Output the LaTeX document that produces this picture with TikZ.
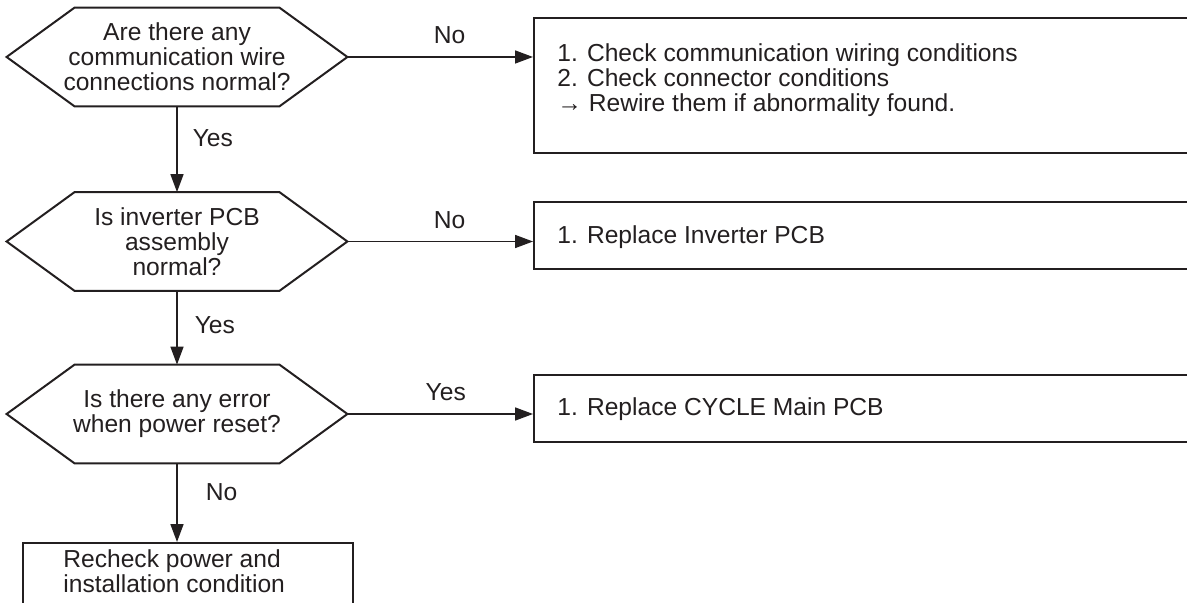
\documentclass[tikz,border=0pt]{standalone}
\usepackage{fontspec}
\setmainfont{Liberation Sans}
\usetikzlibrary{positioning, calc, arrows.meta}
\definecolor{ink}{HTML}{231F20}

\begin{document}
\begin{tikzpicture}[
    x=0.5pt, y=-0.5pt,
    decision/.style={
        minimum width=170pt,
        minimum height=49pt,
        inner sep=0pt,
        align=center
    },
    hexline/.style={draw=ink, line width=1pt},
    actionbox/.style={
        draw=ink,
        line width=1.2pt,
        anchor=north west,
        inner sep=0pt
    },
    boxtext/.style={anchor=north west, align=left, inner sep=0pt},
    arrow/.style={
        -{Triangle[length=9pt, width=6.5pt]},
        draw=ink,
        line width=0.8pt
    },
    answer/.style={inner sep=0pt},
    font=\fontsize{12.3pt}{12.5pt}\selectfont,
    text=ink
]

% page size and clipping
\useasboundingbox (0,0) rectangle (1187,603);
\clip (0,0) rectangle (1187,603);

% parameters
\def\hexin{68}

% macro: question hexagon
\newcommand{\drawhexa}[3]{
  \node[decision] (#1) at #2 {#3};
  \draw[hexline] ($(#1.north west)+(\hexin,0)$) -- ($(#1.north east)-(\hexin,0)$)
    -- (#1.east) -- ($(#1.south east)-(\hexin,0)$)
    -- ($(#1.south west)+(\hexin,0)$) -- (#1.west) -- cycle;
}

% questions
\drawhexa{q1}{(177,57)}{Are there any\\communication wire\\connections normal?}
\drawhexa{q2}{(177,241.5)}{Is inverter PCB\\assembly\\normal?}
\drawhexa{q3}{(177,414)}{Is there any error\\when power reset?}

% action boxes
\node[actionbox, minimum width=335pt, minimum height=67.5pt] (a1) at (533,17) {};
\node[boxtext] (a1txt) at (557,43) {1. Check communication wiring conditions\\2. Check connector conditions\\→ Rewire them if abnormality found.};
\node[actionbox, minimum width=335pt, minimum height=33.5pt] (a2) at (533,201) {};
\node[boxtext] (a2txt) at (557,225) {1. Replace Inverter PCB};
\node[actionbox, minimum width=335pt, minimum height=33.5pt] (a3) at (533,374) {};
\node[boxtext] (a3txt) at (557,397) {1. Replace CYCLE Main PCB};
\node[actionbox, minimum width=165pt, minimum height=40pt] (r1) at (22,542) {};
\node[boxtext] (r1txt) at (63,549) {Recheck power and\\installation condition};

% arrows and answers
\draw[arrow] (q1.east) -- node[answer, pos=0.55, above=6pt] (l1) {No} (q1.east -| a1.west);
\draw[arrow] (q1.south) -- node[answer, pos=0.37, right=7.5pt] (l2) {Yes} (q2.north);
\draw[arrow] (q2.east) -- node[answer, pos=0.55, above=6pt] (l3) {No} (q2.east -| a2.west);
\draw[arrow] (q2.south) -- node[answer, pos=0.46, right=8.5pt] (l4) {Yes} (q3.north);
\draw[arrow] (q3.east) -- node[answer, pos=0.53, above=6pt] (l5) {Yes} (q3.east -| a3.west);
\draw[arrow] (q3.south) -- node[answer, pos=0.37, right=14pt] (l6) {No} (q3.south |- r1.north);

\end{tikzpicture}
\end{document}
